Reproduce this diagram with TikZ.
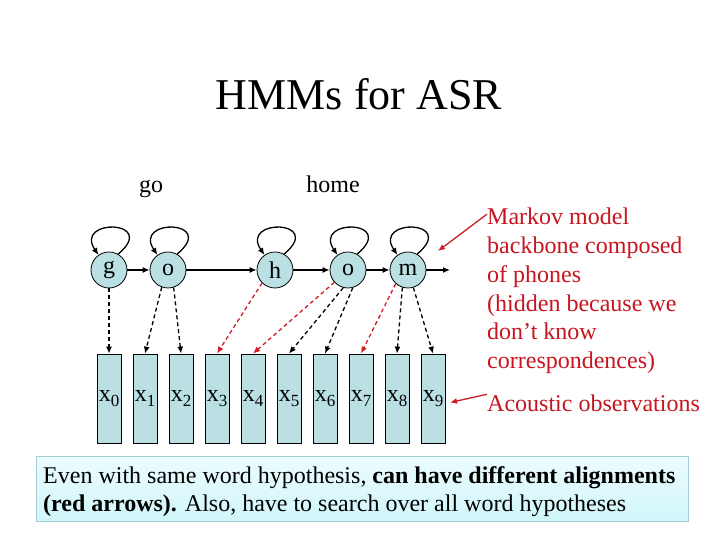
\documentclass[tikz,border=0pt]{standalone}
\usepackage{fontspec}
\setmainfont{Liberation Serif}
\usetikzlibrary{arrows.meta}
\definecolor{nodefill}{RGB}{186,224,228}
\definecolor{redtxt}{RGB}{200,20,30}
\definecolor{redarr}{RGB}{205,30,40}
\definecolor{boxtop}{RGB}{236,252,254}
\definecolor{boxbot}{RGB}{208,246,250}
\definecolor{boxline}{RGB}{165,205,212}
\tikzset{
  state/.style={circle,draw=black,line width=0.8pt,fill=nodefill,minimum size=36pt,inner sep=0pt,font=\fontsize{24}{24}\selectfont},
  obs/.style={rectangle,draw=black,line width=0.8pt,fill=nodefill,minimum width=24pt,minimum height=89pt,inner sep=0pt,font=\fontsize{24}{24}\selectfont},
  trans/.style={line width=1.3pt,-{Latex[length=7pt,width=6pt]}},
  selfloop/.style={line width=1.3pt,-{Latex[length=7pt,width=6pt]}},
  emit/.style={line width=1.3pt,dash pattern=on 4pt off 3pt,-{Latex[length=7pt,width=6pt]}},
  emitred/.style={emit,draw=redarr},
  redlabel/.style={anchor=base west,inner sep=0pt,text=redtxt,font=\fontsize{24}{24}\selectfont},
  redarrow/.style={draw=redarr,line width=1.3pt,-{Latex[length=7pt,width=6pt]}},
}
\newcommand{\obslab}[1]{x\raisebox{-5pt}{\fontsize{17}{17}\selectfont #1}}
\begin{document}
\begin{tikzpicture}[x=1pt,y=1pt]
\useasboundingbox (0,0) rectangle (720,540);
% title
\node[anchor=base,inner sep=0pt,font=\fontsize{44}{44}\selectfont] (title) at (359,430) {HMMs for ASR};
\node[anchor=base,inner sep=0pt,font=\fontsize{24}{24}\selectfont] (go) at (151,347) {go};
\node[anchor=base,inner sep=0pt,font=\fontsize{24}{24}\selectfont] (home) at (333,347) {home};
% states
\node[state] (g) at (109,270) {g};
\node[state] (o1) at (168,270) {o};
\node[state] (h) at (275,270) {h};
\node[state] (o2) at (348,270) {o};
\node[state] (m) at (408,270) {m};
\coordinate (mout) at (450,270);
% observations
\foreach \i in {0,...,9} {
  \node[obs] (x\i) at ({109+36*\i},141.5) {\obslab{\i}};
}
% transitions
\draw[trans] (g) -- (o1);
\draw[trans] (o1) -- (h);
\draw[trans] (h) -- (o2);
\draw[trans] (o2) -- (m);
\draw[trans] (m) -- (mout);
% self loops
\foreach \s in {g,o1,h,o2,m} {
  \draw[selfloop] (\s.60) .. controls +(41,34.4) and +(-25,37) .. (\s.125);
}
% emissions
\draw[emit] (g.south) -- (x0.north);
\draw[emit] (o1.250) -- (x1.north);
\draw[emit] (o1.288) -- (x2.north);
\draw[emitred] (h.225) -- (x3.north);
\draw[emitred] (o2.222) -- (x4.north);
\draw[emit] (o2.255) -- (x5.north);
\draw[emit] (o2.285) -- (x6.north);
\draw[emitred] (m.228) -- (x7.north);
\draw[emit] (m.252) -- (x8.north);
\draw[emit] (m.287) -- (x9.north);
% red annotations
\node[redlabel] (mk1) at (487,315) {Markov model};
\node[redlabel] (mk2) at (487,286.3) {backbone composed};
\node[redlabel] (mk3) at (487,257.6) {of phones};
\node[redlabel] (mk4) at (487,228.9) {(hidden because we};
\node[redlabel] (mk5) at (487,200.2) {don’t know};
\node[redlabel] (mk6) at (487,171.5) {correspondences)};
\node[redlabel] (ac) at (487,128) {Acoustic observations};
\coordinate (mkhead) at (438,289);
\coordinate (achead) at (450,137.5);
\draw[redarrow] ([yshift=-6pt]mk1.north west) -- (mkhead);
\draw[redarrow] ([yshift=9.5pt]ac.west) -- (achead);
% bottom box
\node[anchor=north west,draw=boxline,line width=0.8pt,top color=boxtop,bottom color=boxbot,minimum width=652pt,minimum height=65pt,inner sep=0pt] (bbox) at (36,84) {};
\node[anchor=base west,inner sep=0pt,font=\fontsize{24}{24}\selectfont] (bl1) at (43,56) {Even with same word hypothesis, \textbf{can have different alignments}};
\node[anchor=base west,inner sep=0pt,font=\fontsize{24}{24}\selectfont] (bl2) at (43,28) {\textbf{(red arrows).} Also, have to search over all word hypotheses};
\end{tikzpicture}
\end{document}
